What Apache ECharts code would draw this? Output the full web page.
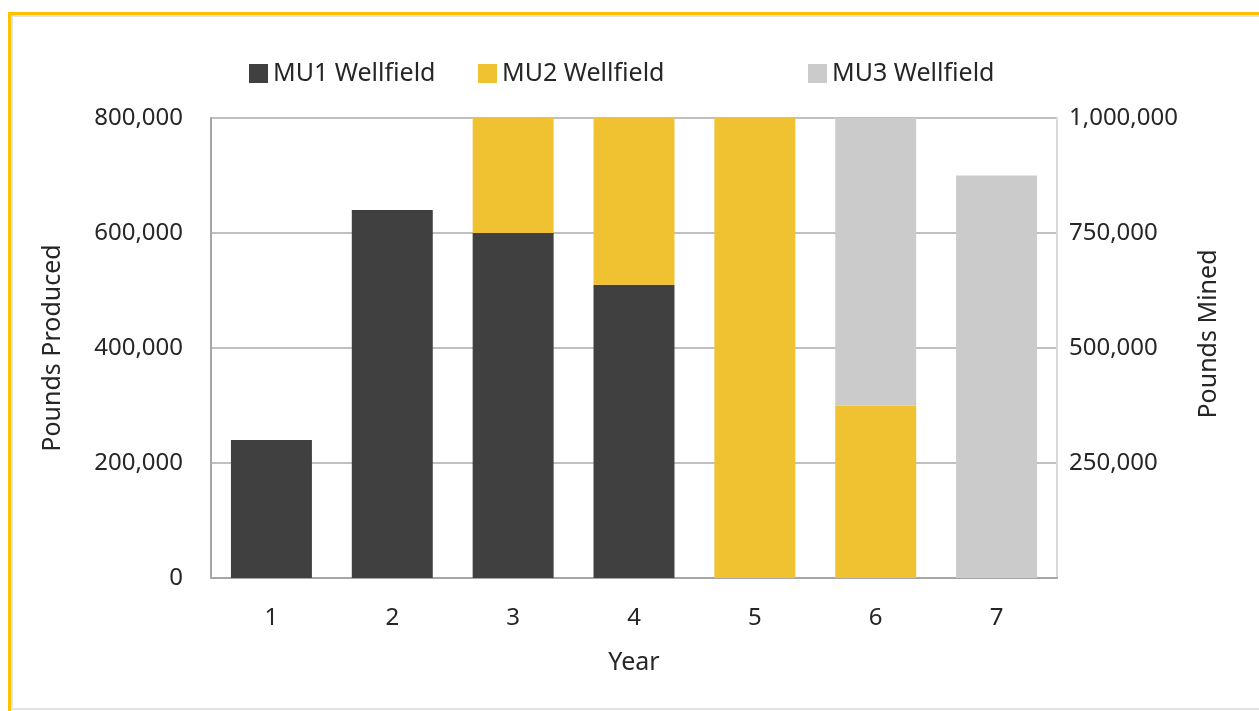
<!DOCTYPE html>
<html>
<head>
<meta charset="utf-8">
<script src="https://cdn.jsdelivr.net/npm/echarts@6/dist/echarts.min.js"></script>
<style>
  html, body { margin: 0; padding: 0; background: #fff; width: 1259px; height: 711px; overflow: hidden; }
  #frame { position: absolute; left: 8px; top: 12px; right: 0; bottom: 0; border-top: 3px solid #FFC000; border-left: 3px solid #FFC000; }
  #inner { position: absolute; left: 0; top: 0; right: 0; bottom: 1px; border-top: 2px solid #e2e2e2; border-left: 2px solid #e2e2e2; border-bottom: 2px solid #e2e2e2; }
  #chart { position: absolute; left: 0; top: 0; width: 1259px; height: 711px; }
</style>
</head>
<body>
<div id="frame"><div id="inner"></div></div>
<div id="chart"></div>
<script>
const categories = ['1', '2', '3', '4', '5', '6', '7'];
const seriesNames = ['MU1 Wellfield', 'MU2 Wellfield', 'MU3 Wellfield'];
const mu1 = [240000, 640000, 600000, 510000, 0, 0, 0];
const mu2 = [0, 0, 200000, 290000, 800000, 300000, 0];
const mu3 = [0, 0, 0, 0, 0, 500000, 700000];
const leftMax = 800000, leftInterval = 200000;
const rightMax = 1000000, rightInterval = 250000;
const colors = ['#404040', '#F0C232', '#CBCBCB'];

const FONT = 'Noto Sans';
const fmt = v => v.toLocaleString('en-US');

const chart = echarts.init(document.getElementById('chart'), null, { renderer: 'canvas' });
const legendLefts = [244, 473, 803];
chart.setOption({
  animation: false,
  textStyle: { fontFamily: FONT },
  legend: seriesNames.map((n, i) => ({
    data: [n], left: legendLefts[i], top: 56,
    icon: 'rect', itemWidth: 19, itemHeight: 19, itemGap: 10,
    textStyle: { fontFamily: FONT, fontSize: 25, color: '#262626' }
  })),
  grid: { left: 211, right: 202, top: 118, bottom: 133, containLabel: false, show: false },
  xAxis: {
    type: 'category', data: categories,
    name: 'Year', nameLocation: 'middle', nameGap: 72,
    nameTextStyle: { fontFamily: FONT, fontSize: 25, color: '#262626' },
    axisLine: { lineStyle: { color: '#a6a6a6', width: 2 } },
    axisTick: { show: false },
    axisLabel: { fontFamily: FONT, fontSize: 24, color: '#262626', margin: 28 }
  },
  yAxis: [
    {
      type: 'value', min: 0, max: leftMax, interval: leftInterval,
      name: 'Pounds Produced', nameLocation: 'middle', nameGap: 146,
      nameTextStyle: { fontFamily: FONT, fontSize: 25, color: '#262626' },
      axisLine: { show: true, lineStyle: { color: '#a6a6a6', width: 2 } },
      axisTick: { show: false },
      splitLine: { lineStyle: { color: '#c0c0c0', width: 2 } },
      axisLabel: { fontFamily: FONT, fontSize: 24, color: '#262626', margin: 28, formatter: fmt }
    },
    {
      type: 'value', min: 0, max: rightMax, interval: rightInterval,
      name: 'Pounds Mined', nameLocation: 'middle', nameGap: 139,
      nameTextStyle: { fontFamily: FONT, fontSize: 25, color: '#262626', padding: [0, 0, 0, 28] },
      axisLine: { show: true, lineStyle: { color: '#d9d9d9', width: 2 } },
      axisTick: { show: false },
      splitLine: { show: false },
      axisLabel: { fontFamily: FONT, fontSize: 24, color: '#262626', margin: 12,
        formatter: v => v === 0 ? '' : fmt(v) }
    }
  ],
  graphic: [{
    type: 'line', z: -1,
    shape: { x1: 211, y1: 118, x2: 1057, y2: 118 },
    style: { stroke: '#d9d9d9', lineWidth: 2 }
  }],
  series: [mu1, mu2, mu3].map((d, i) => ({
    name: seriesNames[i], type: 'bar', stack: 'total', data: d,
    barCategoryGap: '33%',
    itemStyle: { color: colors[i] }
  }))
});
</script>
</body>
</html>
